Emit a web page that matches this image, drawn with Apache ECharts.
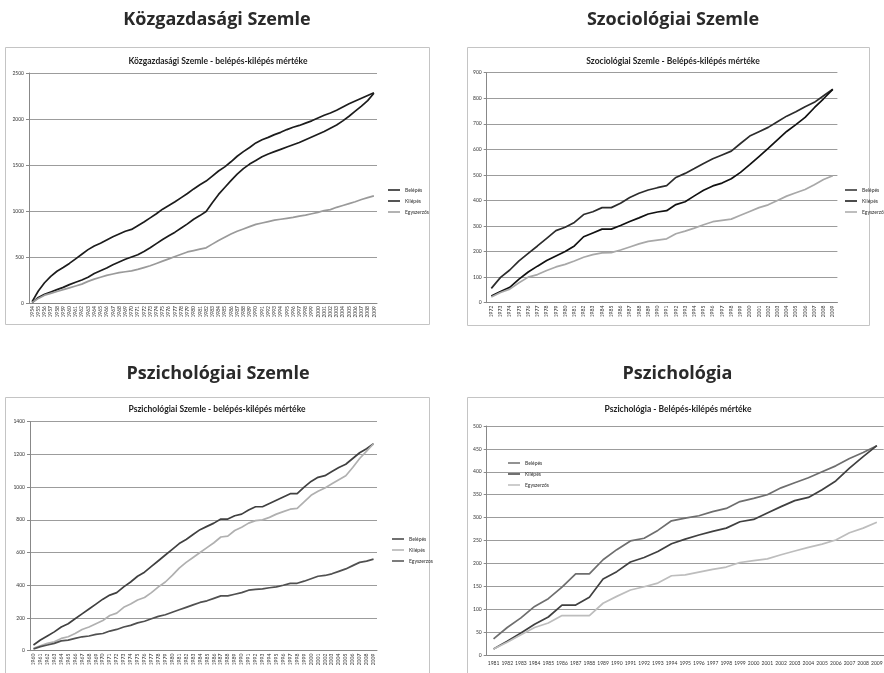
<!DOCTYPE html>
<html>
<head>
<meta charset="utf-8">
<script src="https://cdn.jsdelivr.net/npm/echarts@6/dist/echarts.min.js"></script>
<style>
  html, body { margin: 0; padding: 0; background: #fff; }
  #page { position: relative; width: 884px; height: 673px; overflow: hidden; }
  .q { position: absolute; }
</style>
</head>
<body>
<div id="page">
  <div id="c1" class="q" style="left:0;top:0;width:442px;height:340px"></div>
  <div id="c2" class="q" style="left:442px;top:0;width:470px;height:340px"></div>
  <div id="c3" class="q" style="left:0;top:340px;width:442px;height:333px"></div>
  <div id="c4" class="q" style="left:442px;top:340px;width:470px;height:333px"></div>
</div>
<script>
// year labels for each journal
function yearsFrom(a, b){ var out = []; for(var y=a;y<=b;y++) out.push(String(y)); return out; }
var kozYears = yearsFrom(1954, 2009);
var szocYears = yearsFrom(1972, 2009);
var pszSzYears = yearsFrom(1960, 2009);
var pszYears = yearsFrom(1981, 2009);

// Közgazdasági Szemle
var kozBelepes = [15,130,220,290,345,385,430,480,530,580,620,650,685,720,750,780,800,840,880,925,970,1020,1060,1100,1145,1190,1240,1285,1325,1380,1435,1480,1535,1595,1645,1690,1740,1775,1800,1830,1855,1885,1910,1930,1955,1980,2010,2040,2065,2095,2130,2165,2195,2225,2255,2285];
var kozKilepes = [5,60,95,120,145,170,200,225,250,280,320,350,380,415,445,475,500,525,560,600,645,690,730,770,815,860,910,950,995,1090,1180,1255,1330,1400,1460,1510,1550,1590,1620,1645,1670,1695,1720,1745,1775,1805,1835,1865,1900,1935,1980,2030,2085,2140,2200,2280];
var kozEgy = [5,50,85,105,125,145,165,185,205,235,260,280,300,315,330,340,350,365,385,405,430,455,480,505,530,555,570,585,600,640,680,715,750,780,805,830,855,870,885,900,910,920,930,945,955,970,985,1005,1015,1040,1060,1080,1100,1125,1145,1165];

// Szociológiai Szemle
var szocBelepes = [56,99,128,164,193,222,252,282,295,314,345,356,372,372,389,412,428,441,450,458,490,506,525,545,563,578,593,623,652,669,686,708,730,747,767,784,810,835];
var szocKilepes = [26,44,60,92,120,143,165,183,200,222,258,273,288,288,302,318,332,347,355,360,384,395,418,440,457,468,485,510,540,572,604,637,670,697,725,763,798,835];
var szocEgy = [22,40,53,78,100,110,126,140,150,163,178,188,195,196,206,218,230,240,245,250,270,280,292,305,317,322,327,342,357,372,383,400,417,430,443,462,482,497];

// Pszichológiai Szemle
var pszSzBelepes = [35,65,90,115,145,165,195,225,255,285,315,340,355,390,420,455,480,515,550,585,620,655,680,710,740,760,780,805,805,825,835,860,880,880,900,920,940,960,960,1000,1035,1060,1070,1095,1120,1140,1175,1210,1235,1265];
var pszSzKilepes = [15,30,45,55,75,85,105,130,145,165,185,215,230,265,285,310,325,355,390,420,460,505,540,570,600,630,660,695,700,735,755,780,795,800,815,835,850,865,870,910,950,975,995,1020,1045,1070,1120,1175,1220,1265];
var pszSzEgy = [10,25,35,45,60,65,75,85,90,100,105,120,130,145,155,170,180,195,210,220,235,250,265,280,295,305,320,335,335,345,355,370,375,378,385,390,400,412,412,425,440,455,460,470,485,500,520,540,548,560];

// Pszichológia
var pszBelepes = [35,60,81,106,123,148,177,177,208,230,249,255,272,293,299,304,313,320,335,342,350,365,376,387,400,413,429,442,457];
var pszKilepes = [13,30,48,67,83,109,109,126,166,182,203,213,226,243,253,262,270,277,291,296,310,324,337,344,361,380,408,433,457];
var pszEgy = [13,28,44,60,70,86,86,86,113,128,142,149,157,173,175,181,187,192,202,206,210,219,227,235,242,251,267,277,290];

var FONT = 'Lato, "Open Sans", sans-serif';

function txt(s, x, y, size, weight){
  return { type: 'text', x: x, y: y, silent: true,
    style: { text: s, font: weight + ' ' + size + 'px ' + FONT, fill: '#222',
      textAlign: 'center', textVerticalAlign: 'middle', align: 'center', verticalAlign: 'middle' } };
}

function make_chart(id, c){
  var chart = echarts.init(document.getElementById(id));
  var series_data = [];
  for(var i=0;i<c.series.length;i++){
    series_data.push({
      name: c.series[i].name, type: 'line', data: c.series[i].data,
      showSymbol: false, symbol: 'none', color: c.series[i].color,
      lineStyle: { color: c.series[i].color, width: 1.7 }, animation: false
    });
  }
  var option = {
    animation: false,
    graphic: [
      { type: 'rect', silent: true, shape: c.frame, style: { fill: '#fff', stroke: '#c4c4c4', lineWidth: 1 }, z: -10 },
      { type: 'text', x: c.sectionX, y: c.sectionY, silent: true,
        style: { text: c.section, font: 'bold 18px "Open Sans", sans-serif', fill: '#2a2a2a',
          textAlign: 'center', textVerticalAlign: 'middle', align: 'center', verticalAlign: 'middle' } },
      txt(c.title, c.titleX, c.titleY, 8.5, 'bold')
    ],
    legend: {
      orient: 'vertical', left: c.legend[0], top: c.legend[1],
      icon: 'rect', itemWidth: 12, itemHeight: 1.5, itemGap: 5,
      textStyle: { fontSize: 5, color: '#333', fontFamily: FONT, lineHeight: 6 },
      selectedMode: false,
      data: c.series.map(function(s){ return s.name; })
    },
    grid: { left: c.grid[0], top: c.grid[1], width: c.grid[2], height: c.grid[3], containLabel: false },
    xAxis: {
      type: 'category', data: c.years, boundaryGap: true,
      axisLine: { lineStyle: { color: '#888', width: 1 } },
      axisTick: { length: 3, lineStyle: { color: '#888' } },
      axisLabel: { interval: 0, rotate: c.rotate, fontSize: 5, color: '#333', fontFamily: FONT, margin: c.labelMargin }
    },
    yAxis: {
      type: 'value', min: 0, max: c.max, interval: c.step,
      axisLine: { show: true, lineStyle: { color: '#888' } },
      axisTick: { show: true, length: 3, lineStyle: { color: '#888' } },
      splitLine: { lineStyle: { color: '#9c9c9c', width: 1 } },
      axisLabel: { fontSize: 5, color: '#333', fontFamily: FONT, margin: 5,
        formatter: function(value){ return String(value); } }
    },
    series: series_data
  };
  chart.setOption(option);
  return chart;
}

make_chart('c1', {
  section: 'Közgazdasági Szemle', sectionX: 217, sectionY: 20,
  title: 'Közgazdasági Szemle - belépés-kilépés mértéke', titleX: 218, titleY: 61,
  frame: { x: 5.5, y: 47.5, width: 424, height: 277 },
  grid: [29, 73, 348, 230], legend: [383, 182],
  years: kozYears, max: 2500, step: 500, rotate: 90, labelMargin: 3,
  series: [
    { name: 'Belépés', data: kozBelepes, color: '#1c1c1c' },
    { name: 'Kilépés', data: kozKilepes, color: '#1c1c1c' },
    { name: 'Egyszerzős', data: kozEgy, color: '#9a9a9a' }
  ]
});

make_chart('c2', {
  section: 'Szociológiai Szemle', sectionX: 231, sectionY: 20,
  title: 'Szociológiai Szemle - Belépés-kilépés mértéke', titleX: 231, titleY: 61,
  frame: { x: 25.5, y: 47.5, width: 402, height: 278 },
  grid: [44.7, 72.7, 350.7, 230], legend: [398, 182],
  years: szocYears, max: 900, step: 100, rotate: 90, labelMargin: 3,
  series: [
    { name: 'Belépés', data: szocBelepes, color: '#2c2c2c' },
    { name: 'Kilépés', data: szocKilepes, color: '#111111' },
    { name: 'Egyszerzős', data: szocEgy, color: '#a8a8a8' }
  ]
});

make_chart('c3', {
  section: 'Pszichológiai Szemle', sectionX: 218, sectionY: 34,
  title: 'Pszichológiai Szemle - belépés-kilépés mértéke', titleX: 217, titleY: 69,
  frame: { x: 5.5, y: 57.5, width: 424, height: 300 },
  grid: [30, 81.7, 347, 229], legend: [387, 191],
  years: pszSzYears, max: 1400, step: 200, rotate: 90, labelMargin: 3,
  series: [
    { name: 'Belépés', data: pszSzBelepes, color: '#404040' },
    { name: 'Kilépés', data: pszSzKilepes, color: '#b0b0b0' },
    { name: 'Egyszerzos', data: pszSzEgy, color: '#505050' }
  ]
});

make_chart('c4', {
  section: 'Pszichológia', sectionX: 235.5, sectionY: 34,
  title: 'Pszichológia - Belépés-kilépés mértéke', titleX: 236, titleY: 69,
  frame: { x: 25.5, y: 57.5, width: 430, height: 300 },
  grid: [44.7, 86, 397, 229], legend: [61, 115],
  years: pszYears, max: 500, step: 50, rotate: 0, labelMargin: 6,
  series: [
    { name: 'Belépés', data: pszBelepes, color: '#6e6e6e' },
    { name: 'Kilépés', data: pszKilepes, color: '#404040' },
    { name: 'Egyszerzős', data: pszEgy, color: '#bdbdbd' }
  ]
});
</script>
</body>
</html>
